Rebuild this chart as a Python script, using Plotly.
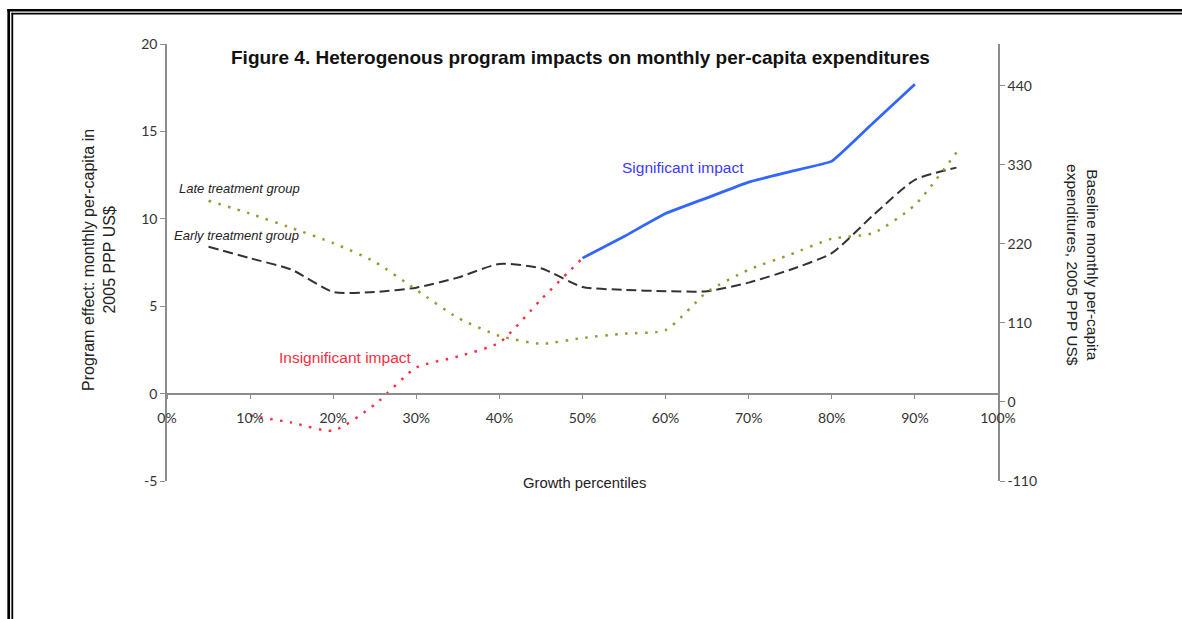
import plotly.graph_objects as go

# ---- data ----
pct = [5, 10, 15, 20, 25, 30, 35, 40, 45, 50, 55, 60, 65, 70, 75, 80, 85, 90, 95]
early_baseline = [216, 200, 184, 153, 153, 159, 173, 192, 186, 160, 156, 154, 154, 166, 184, 207, 260, 309, 326]
late_baseline = [280, 262, 242, 221, 195, 156, 117, 92, 81, 89, 95, 100, 153, 184, 205, 227, 235, 274, 347]

insig_x = [10, 15, 20, 25, 30, 35, 40, 45, 50]
insig_y = [-1.26, -1.66, -2.12, -0.63, 1.49, 2.12, 2.92, 5.38, 7.75]

sig_x = [50, 55, 60, 65, 70, 75, 80, 85, 90]
sig_y = [7.75, 8.99, 10.3, 11.2, 12.1, 12.7, 13.3, 15.5, 17.7]

x_ticks = [0, 10, 20, 30, 40, 50, 60, 70, 80, 90, 100]
x_ticklabels = ["0%", "10%", "20%", "30%", "40%", "50%", "60%", "70%", "80%", "90%", "100%"]
left_ticks = [-5, 0, 5, 10, 15, 20]
left_ticklabels = ["-5", "0", "5", "10", "15", "20"]
right_ticks = [-110, 0, 110, 220, 330, 440]
right_ticklabels = ["-110", "0", "110", "220", "330", "440"]

AX = "#8c8c8c"
TK = "#333333"
TICKFONT = dict(family="Lato, Carlito, Liberation Sans, sans-serif", size=14, color=TK)

fig = go.Figure()

fig.add_trace(go.Scatter(
    x=pct, y=early_baseline, yaxis="y2", mode="lines", name="Early treatment group",
    line=dict(color="#333333", width=2, dash="10px,5px", shape="spline", smoothing=0.6)))
fig.add_trace(go.Scatter(
    x=pct, y=late_baseline, yaxis="y2", mode="lines", name="Late treatment group",
    line=dict(color="#999933", width=2.5, dash="2.5px,7.5px", shape="spline", smoothing=0.6)))
fig.add_trace(go.Scatter(
    x=insig_x, y=insig_y, mode="lines", name="Insignificant impact",
    line=dict(color="#ff2d40", width=2.5, dash="2.5px,7.5px", shape="spline", smoothing=0.6)))
fig.add_trace(go.Scatter(
    x=sig_x, y=sig_y, mode="lines", name="Significant impact",
    line=dict(color="#3366ff", width=2.8, shape="spline", smoothing=0.3)))

fig.update_layout(
    width=1182, height=619,
    margin=dict(l=167, r=184, t=44, b=138),
    paper_bgcolor="white", plot_bgcolor="white",
    showlegend=False,
    xaxis=dict(
        range=[0, 100], tickvals=x_ticks, ticktext=x_ticklabels,
        anchor="free", position=0.2,
        showline=True, linecolor=AX, linewidth=1.5,
        ticks="outside", ticklen=5, tickcolor=AX, tickwidth=1,
        ticklabelstandoff=7,
        showgrid=False, zeroline=False, tickfont=TICKFONT,
    ),
    yaxis=dict(
        range=[-5, 20], tickvals=left_ticks, ticktext=left_ticklabels,
        showline=True, linecolor=AX, linewidth=1.5,
        ticks="outside", ticklen=5, tickcolor=AX,
        showgrid=False, zeroline=False, tickfont=TICKFONT,
    ),
    yaxis2=dict(
        range=[-110, 498], tickvals=right_ticks, ticktext=right_ticklabels,
        overlaying="y", side="right",
        showline=True, linecolor=AX, linewidth=1.5,
        ticks="outside", ticklen=5, tickcolor=AX,
        showgrid=False, zeroline=False, tickfont=TICKFONT,
    ),
)

ARIAL = "Liberation Sans, Arial, sans-serif"
ann = [
    dict(text="<b>Figure 4. Heterogenous program impacts on monthly per-capita expenditures</b>",
         xref="paper", yref="paper", x=0.4975, y=0.968, xanchor="center", yanchor="middle",
         showarrow=False, font=dict(family=ARIAL, size=19, color="#111111")),
    dict(text="Program effect: monthly per-capita in<br>2005 PPP US$",
         xref="paper", yref="paper", x=-0.0818, y=0.506, xanchor="center", yanchor="middle",
         showarrow=False, textangle=-90,
         font=dict(family=ARIAL, size=16, color="#222222")),
    dict(text="Baseline monthly per-capita<br>expenditures, 2005 PPP US$",
         xref="paper", yref="paper", x=1.1023, y=0.494, xanchor="center", yanchor="middle",
         showarrow=False, textangle=90,
         font=dict(family=ARIAL, size=15.5, color="#222222")),
    dict(text="Growth percentiles", xref="paper", yref="paper", x=0.502, y=-0.005,
         xanchor="center", yanchor="middle",
         showarrow=False, font=dict(family=ARIAL, size=14.8, color="#222222")),
    dict(text="<i>Late treatment group</i>", xref="x", yref="y", x=1.2, y=11.73,
         xanchor="left", yanchor="middle", showarrow=False,
         font=dict(family=ARIAL, size=13, color="#222222")),
    dict(text="<i>Early treatment group</i>", xref="x", yref="y", x=0.6, y=9.05,
         xanchor="left", yanchor="middle", showarrow=False,
         font=dict(family=ARIAL, size=13, color="#222222")),
    dict(text="Significant impact", xref="x", yref="y", x=54.5, y=12.93,
         xanchor="left", yanchor="middle", showarrow=False,
         font=dict(family=ARIAL, size=15.5, color="#4038ff")),
    dict(text="Insignificant impact", xref="x", yref="y", x=13.2, y=2.08,
         xanchor="left", yanchor="middle", showarrow=False,
         font=dict(family=ARIAL, size=15.5, color="#ff2d40")),
]
fig.update_layout(annotations=ann)

# double frame (left and top) around the chart
def px_x(px):
    return (px - 167) / 831.0

def px_y(py):
    return (481 - py) / 437.0

shapes = [
    dict(type="line", xref="paper", yref="paper", x0=px_x(8.7), x1=px_x(8.7), y0=px_y(9), y1=px_y(625),
         line=dict(color="black", width=2.7)),
    dict(type="line", xref="paper", yref="paper", x0=px_x(12.3), x1=px_x(12.3), y0=px_y(12.7), y1=px_y(625),
         line=dict(color="black", width=1.8)),
    dict(type="line", xref="paper", yref="paper", x0=px_x(7.4), x1=px_x(1190), y0=px_y(10.2), y1=px_y(10.2),
         line=dict(color="black", width=2.5)),
    dict(type="line", xref="paper", yref="paper", x0=px_x(11.4), x1=px_x(1190), y0=px_y(13.7), y1=px_y(13.7),
         line=dict(color="black", width=1.8)),
]
fig.update_layout(shapes=shapes)

fig.write_html("out.html")
